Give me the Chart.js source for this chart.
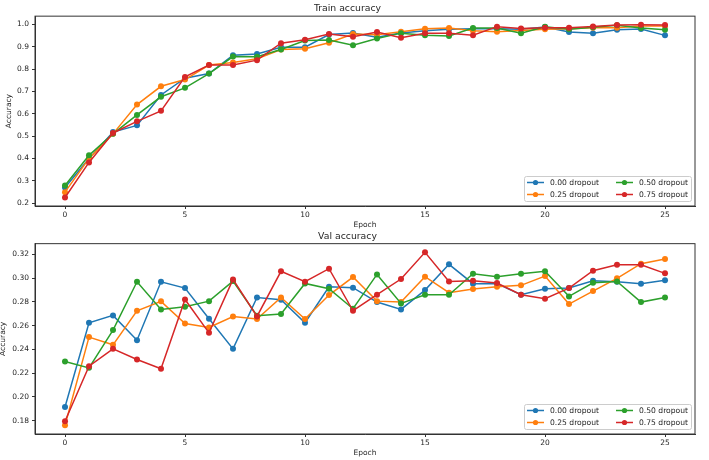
<!DOCTYPE html>
<html>
<head>
<meta charset="utf-8">
<script src="https://cdn.jsdelivr.net/npm/chart.js@4.4.1/dist/chart.umd.min.js"></script>
<style>
  html, body { margin: 0; padding: 0; background: #ffffff; }
  #wrap { position: relative; width: 709px; height: 460px; overflow: hidden; background: #fff; }
  .box { position: absolute; left: 0; width: 709px; height: 232px; }
  canvas { display: block; }
</style>
</head>
<body>
<div id="wrap">
  <div class="box" style="top:0px"><canvas id="c1" width="709" height="232"></canvas></div>
  <div class="box" style="top:228px"><canvas id="c2" width="709" height="232"></canvas></div>
</div>
<script>
// ---------- data ----------
const epochs = [0,1,2,3,4,5,6,7,8,9,10,11,12,13,14,15,16,17,18,19,20,21,22,23,24,25];
const seriesLabels = ['0.00 dropout', '0.25 dropout', '0.50 dropout', '0.75 dropout'];
const seriesColors = ['#1f77b4', '#ff7f0e', '#2ca02c', '#d62728'];

const trainD00 = [0.270,0.400,0.518,0.548,0.684,0.759,0.780,0.862,0.868,0.898,0.898,0.955,0.962,0.943,0.962,0.972,0.978,0.981,0.981,0.978,0.988,0.966,0.961,0.976,0.979,0.951];
const trainD25 = [0.249,0.400,0.510,0.641,0.723,0.753,0.818,0.830,0.846,0.888,0.891,0.918,0.957,0.954,0.967,0.981,0.984,0.972,0.967,0.973,0.978,0.981,0.985,0.985,0.993,0.993];
const trainD50 = [0.279,0.414,0.510,0.595,0.676,0.716,0.780,0.856,0.855,0.888,0.928,0.930,0.907,0.937,0.961,0.951,0.948,0.984,0.984,0.961,0.990,0.978,0.987,0.996,0.984,0.976];
const trainD75 = [0.225,0.382,0.514,0.566,0.613,0.765,0.818,0.818,0.840,0.916,0.931,0.957,0.945,0.966,0.940,0.960,0.960,0.952,0.990,0.982,0.985,0.985,0.991,0.997,0.998,0.997];

const valD00 = [0.1915,0.2624,0.2686,0.2477,0.2969,0.2916,0.2657,0.2404,0.2837,0.2818,0.2624,0.2927,0.2919,0.2798,0.2736,0.2899,0.3116,0.2953,0.2953,0.2860,0.2910,0.2916,0.2978,0.2969,0.2953,0.2981];
const valD25 = [0.1760,0.2503,0.2438,0.2725,0.2804,0.2618,0.2584,0.2677,0.2655,0.2837,0.2655,0.2857,0.3009,0.2806,0.2798,0.3012,0.2877,0.2908,0.2927,0.2939,0.3017,0.2781,0.2891,0.2998,0.3121,0.3161];
const valD50 = [0.2298,0.2244,0.2562,0.2969,0.2736,0.2759,0.2806,0.2975,0.2683,0.2697,0.2955,0.2910,0.2742,0.3031,0.2787,0.2860,0.2860,0.3037,0.3012,0.3037,0.3057,0.2846,0.2961,0.2972,0.2798,0.2837];
const valD75 = [0.1794,0.2258,0.2404,0.2314,0.2236,0.2820,0.2539,0.2989,0.2677,0.3057,0.2969,0.3079,0.2725,0.2860,0.2992,0.3217,0.2972,0.2978,0.2958,0.2860,0.2826,0.2916,0.3062,0.3113,0.3113,0.3040];

const epochTicks = [0,5,10,15,20,25];
const trainTicks = [0.2,0.3,0.4,0.5,0.6,0.7,0.8,0.9,1.0];
const valTicks = [0.18,0.20,0.22,0.24,0.26,0.28,0.30,0.32];

// ---------- helpers ----------
const FONT = 'DejaVu Sans';
const TXT = '#262626';

const framePlugin = {
  id: 'frameAndLegend',
  afterDraw(chart) {
    const ctx = chart.ctx;
    const ca = chart.chartArea;
    ctx.save();
    ctx.strokeStyle = '#333333';
    ctx.lineWidth = 1;
    ctx.strokeRect(ca.left, ca.top, ca.right - ca.left, ca.bottom - ca.top);

    // legend box (two columns, inside lower right)
    const bw = 167, bh = 25;
    const bx = ca.right - 3.5 - bw;
    const by = ca.bottom - 4.5 - bh;
    ctx.fillStyle = 'rgba(255,255,255,0.85)';
    ctx.strokeStyle = '#cccccc';
    ctx.lineWidth = 1;
    ctx.beginPath();
    if (ctx.roundRect) ctx.roundRect(bx, by, bw, bh, 2); else ctx.rect(bx, by, bw, bh);
    ctx.fill();
    ctx.stroke();

    const ds = chart.data.datasets;
    const cols = [bx + 2.5, bx + 91.5];
    const rows = [by + 6, by + 18];
    ctx.font = '7.6px "' + FONT + '"';
    ctx.textBaseline = 'middle';
    ctx.textAlign = 'left';
    for (let i = 0; i < ds.length; i++) {
      const col = Math.floor(i / 2), row = i % 2;
      const x0 = cols[col], y0 = rows[row];
      ctx.strokeStyle = ds[i].borderColor;
      ctx.lineWidth = 1.5;
      ctx.beginPath();
      ctx.moveTo(x0, y0);
      ctx.lineTo(x0 + 17, y0);
      ctx.stroke();
      ctx.fillStyle = ds[i].borderColor;
      ctx.beginPath();
      ctx.arc(x0 + 8.5, y0, 2.6, 0, Math.PI * 2);
      ctx.fill();
      ctx.fillStyle = TXT;
      ctx.fillText(ds[i].label, x0 + 23, y0 + 0.5);
    }
    ctx.restore();
  }
};

function makeChart(id, titleText, series, yTicks, yMin, yMax, decimals, titlePad, yTitlePad) {
  const datasets = series.map((vals, i) => ({
    label: seriesLabels[i],
    data: epochs.map((e, k) => ({ x: e, y: vals[k] })),
    borderColor: seriesColors[i],
    backgroundColor: seriesColors[i],
    borderWidth: 1.5,
    pointRadius: 3,
    pointBorderWidth: 0,
    pointHoverRadius: 3,
    tension: 0,
    order: series.length - 1 - i
  }));
  return new Chart(document.getElementById(id), {
    type: 'line',
    data: { datasets },
    options: {
      responsive: false,
      animation: false,
      devicePixelRatio: 1,
      layout: { padding: { left: 0, right: 14, top: 0, bottom: 0 } },
      plugins: {
        legend: { display: false },
        tooltip: { enabled: false },
        title: {
          display: true,
          text: titleText,
          color: TXT,
          font: { family: FONT, size: 9.3, weight: 'normal', lineHeight: 1.2 },
          padding: titlePad
        }
      },
      scales: {
        x: {
          type: 'linear',
          min: -1.25,
          max: 26.25,
          afterBuildTicks: (s) => { s.ticks = epochTicks.map(v => ({ value: v })); },
          afterFit: (s) => { s.height = 26; },
          ticks: {
            color: TXT,
            font: { family: FONT, size: 7.5 },
            padding: 2,
            maxRotation: 0,
            callback: (v) => String(v)
          },
          grid: { display: true, drawOnChartArea: false, drawTicks: true, tickLength: 3, color: '#333333' },
          border: { display: true, color: '#333333' },
          title: {
            display: true,
            text: 'Epoch',
            color: TXT,
            font: { family: FONT, size: 7.5, lineHeight: 1.2 },
            padding: { top: 0, bottom: 2 }
          }
        },
        y: {
          type: 'linear',
          min: yMin,
          max: yMax,
          afterBuildTicks: (s) => { s.ticks = yTicks.map(v => ({ value: v })); },
          afterFit: (s) => { s.width = 35; },
          ticks: {
            color: TXT,
            font: { family: FONT, size: 7.5 },
            padding: 3,
            callback: (v) => Number(v).toFixed(decimals)
          },
          grid: { display: true, drawOnChartArea: false, drawTicks: true, tickLength: 3, color: '#333333' },
          border: { display: true, color: '#333333' },
          title: {
            display: true,
            text: 'Accuracy',
            color: TXT,
            font: { family: FONT, size: 7.5, lineHeight: 1.0 },
            padding: yTitlePad
          }
        }
      }
    },
    plugins: [framePlugin]
  });
}

makeChart('c1', 'Train accuracy', [trainD00, trainD25, trainD50, trainD75],
  trainTicks, 0.187, 1.037, 1, { top: 3, bottom: 2 }, { top: 5.5, bottom: 0 });
makeChart('c2', 'Val accuracy', [valD00, valD25, valD50, valD75],
  valTicks, 0.1687, 0.329, 2, { top: 3, bottom: 1.5 }, { top: -0.5, bottom: 0 });
</script>
</body>
</html>
